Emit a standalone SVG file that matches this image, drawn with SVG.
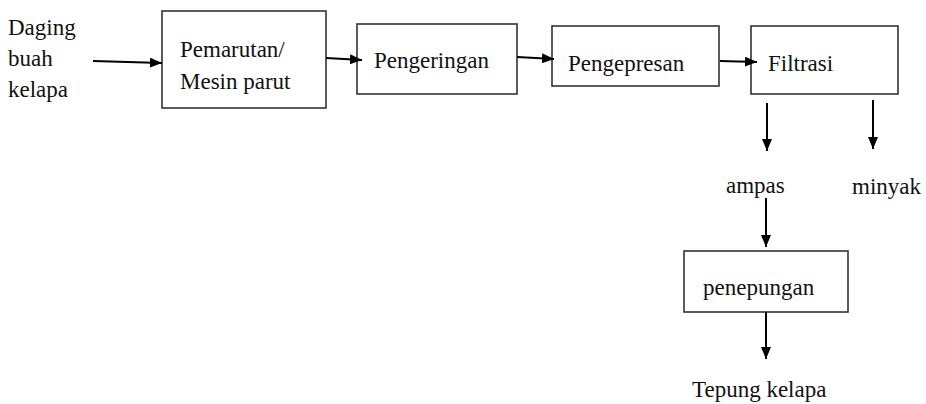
<svg xmlns="http://www.w3.org/2000/svg" width="926" height="404" viewBox="0 0 926 404">
<style>
.box{fill:#fff;stroke:#333;stroke-width:1.6}
.t{font-family:"Liberation Serif","Times New Roman",serif;font-size:23px;fill:#111}
.c{stroke:#000;stroke-width:2;fill:none}
</style>
<defs>
<marker id="ah" markerWidth="12" markerHeight="10" refX="12" refY="5" orient="auto" markerUnits="userSpaceOnUse">
<path d="M0,0 L12,5 L0,10 Z" fill="#000"/>
</marker>
</defs>
<rect width="926" height="404" fill="#fff"/>
<g id="input">
<text class="t" x="8" y="35">Daging</text>
<text class="t" x="8" y="66">buah</text>
<text class="t" x="8" y="97">kelapa</text>
</g>
<g id="pemarutan">
<rect class="box" x="162" y="11" width="164" height="97"/>
<text class="t" x="180" y="57">Pemarutan/</text>
<text class="t" x="180" y="89">Mesin parut</text>
</g>
<g id="pengeringan">
<rect class="box" x="357" y="24" width="160" height="70"/>
<text class="t" x="374" y="68">Pengeringan</text>
</g>
<g id="pengepresan">
<rect class="box" x="552" y="26" width="167" height="60"/>
<text class="t" x="568" y="71">Pengepresan</text>
</g>
<g id="filtrasi">
<rect class="box" x="751" y="26" width="147" height="68"/>
<text class="t" x="768" y="71">Filtrasi</text>
</g>
<g id="ampas">
<text class="t" x="726" y="193">ampas</text>
</g>
<g id="minyak">
<text class="t" x="852" y="194">minyak</text>
</g>
<g id="penepungan">
<rect class="box" x="684" y="251" width="164" height="61"/>
<text class="t" x="703" y="295">penepungan</text>
</g>
<g id="tepung">
<text class="t" x="692" y="397">Tepung kelapa</text>
</g>
<g id="connectors">
<line class="c" x1="93" y1="61" x2="162" y2="63" marker-end="url(#ah)"/>
<line class="c" x1="326" y1="58" x2="362" y2="60" marker-end="url(#ah)"/>
<line class="c" x1="517" y1="57" x2="554" y2="59" marker-end="url(#ah)"/>
<line class="c" x1="720" y1="61" x2="757" y2="62" marker-end="url(#ah)"/>
<line class="c" x1="767" y1="103" x2="767" y2="151" marker-end="url(#ah)"/>
<line class="c" x1="873" y1="100" x2="873" y2="149" marker-end="url(#ah)"/>
<line class="c" x1="766" y1="198" x2="766" y2="247" marker-end="url(#ah)"/>
<line class="c" x1="766" y1="312" x2="766" y2="359" marker-end="url(#ah)"/>
</g>
</svg>
